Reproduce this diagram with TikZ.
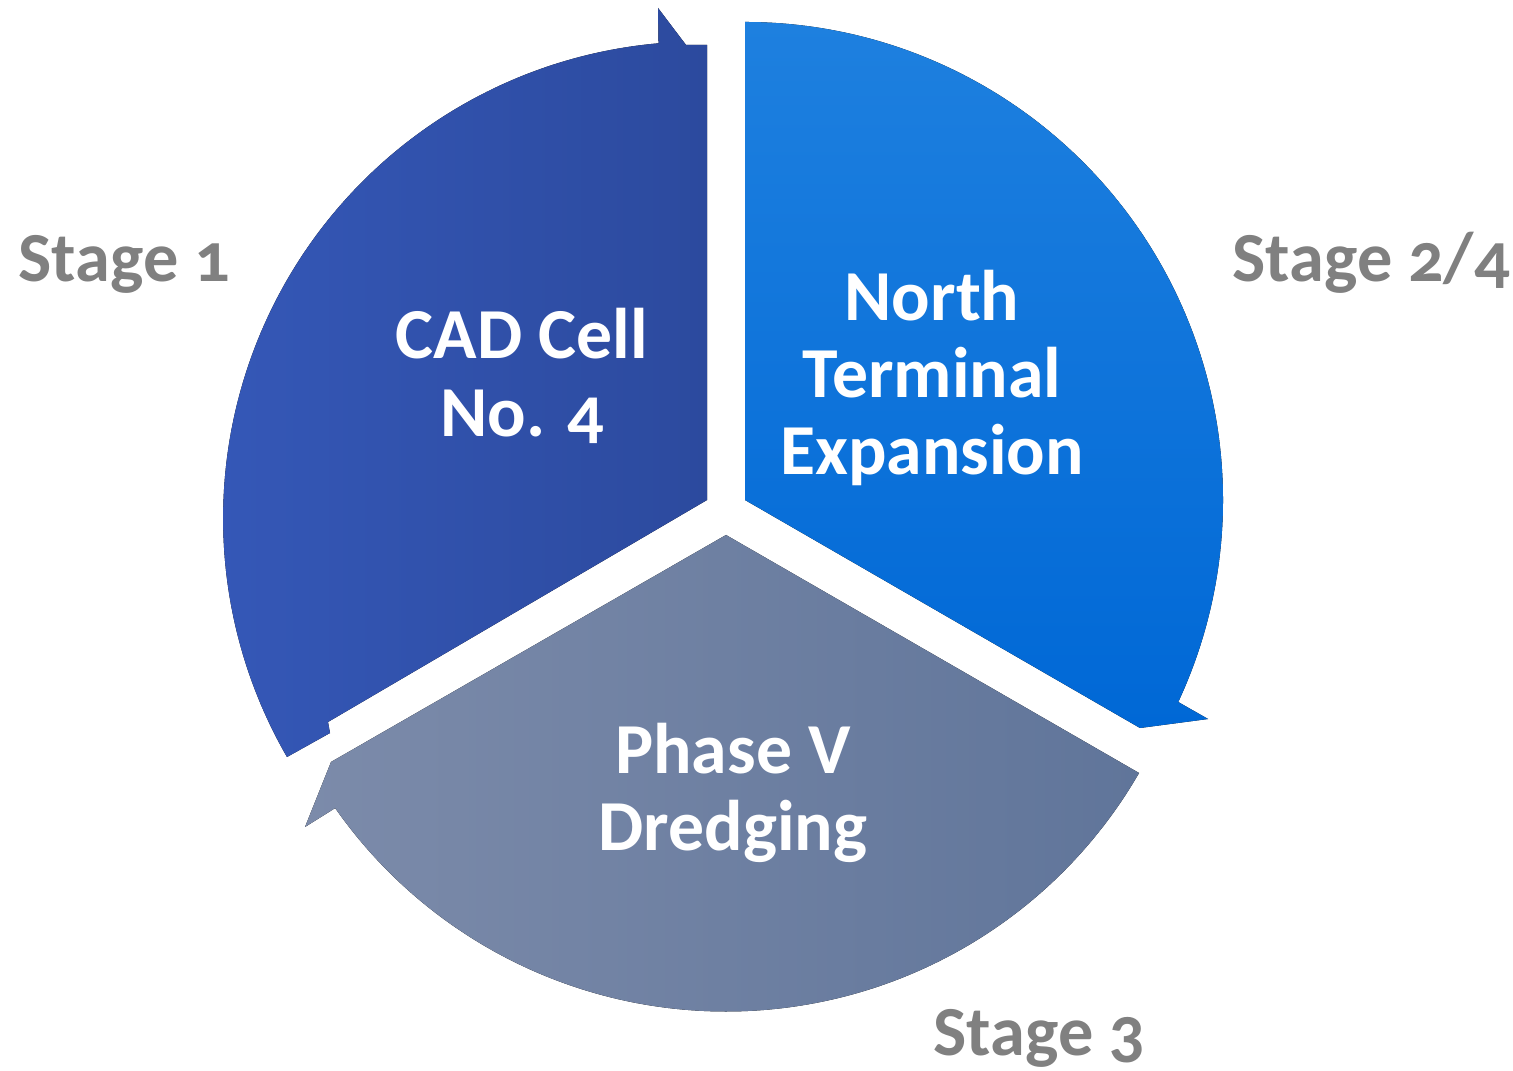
\documentclass[tikz,border=0pt]{standalone}
\usepackage{fontspec}
\setmainfont{Carlito}[Numbers=OldStyle]
\definecolor{cellA}{HTML}{3558B8}
\definecolor{cellB}{HTML}{2C4A9E}
\definecolor{northA}{HTML}{1E80DF}
\definecolor{northB}{HTML}{0B78EA}
\definecolor{northC}{HTML}{0068D6}
\definecolor{phaseA}{HTML}{7C8BAA}
\definecolor{phaseB}{HTML}{60759A}
\definecolor{stagegray}{HTML}{808080}
\begin{document}
\begin{tikzpicture}[x=0.01cm,y=-0.01cm,
  seglabel/.style={text=white,font=\bfseries\fontsize{20.4}{22}\selectfont,align=center},
  stagelabel/.style={text=stagegray,font=\bfseries\fontsize{20}{24}\selectfont,inner sep=0pt,anchor=base west}]
\useasboundingbox (0,0) rectangle (1513,1071);
\fill[left color=cellA,right color=cellB](707,500)--(328,722)--(330,733)--(287,757)arc[start angle=150,end angle=265,radius=477]--(658,8)--(686,45)--(707,45)--cycle;
\fill[top color=northA,middle color=northB,bottom color=northC](745,500)--(745,22)arc[start angle=-90,end angle=25,radius=478]--(1208,719)--(1140,728)--cycle;
\fill[left color=phaseA,right color=phaseB](726,535)--(1139,773)arc[start angle=30,end angle=145,radius=477]--(305,827)--(331,762)--cycle;
\node[seglabel](cell)at(522,376){CAD Cell\\No. 4};
\node[seglabel](north)at(932,378){North\\Terminal\\Expansion};
\node[seglabel](phase)at(733,793){Phase V\\Dredging};
\node[stagelabel](stone)at(18,282){Stage 1};
\node[stagelabel](sttwo)at(1232,282){Stage 2/4};
\node[stagelabel](stthree)at(933,1055){Stage 3};
\end{tikzpicture}
\end{document}
